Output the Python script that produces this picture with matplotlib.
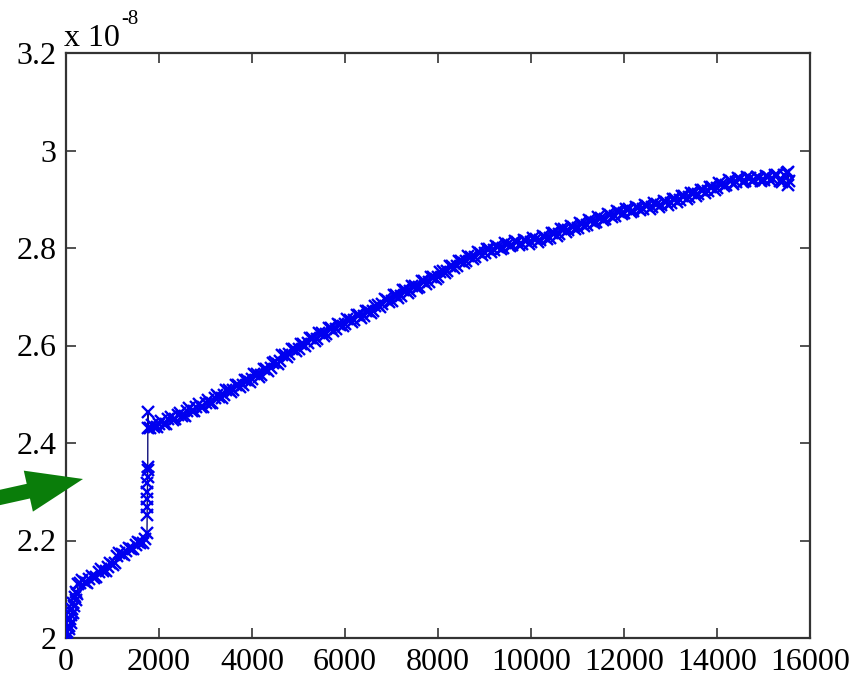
import numpy as np
import matplotlib
matplotlib.use("Agg")
import matplotlib.pyplot as plt
from matplotlib.patches import FancyArrow

# ---- data (y in units of 1e-8) ----
x_start = [10, 25, 40, 55, 70, 85, 100, 115, 130, 145, 160, 175, 190, 205, 220, 240, 260]
y_start = [2.000, 2.012, 2.005, 2.025, 2.018, 2.038, 2.030, 2.048, 2.060, 2.052,
           2.072, 2.065, 2.085, 2.078, 2.095, 2.090, 2.110]

x_low = [300, 400, 500, 600, 700, 800, 900, 1000, 1100, 1200, 1300, 1400, 1500, 1600, 1700]
y_low = [2.112, 2.114, 2.121, 2.124, 2.135, 2.138, 2.146, 2.150, 2.168, 2.172,
         2.178, 2.183, 2.190, 2.195, 2.203]
x_low_b = [350, 450, 550, 650, 750, 850, 950, 1050, 1150, 1250, 1350, 1450, 1550, 1650]
y_low_b = [2.118, 2.113, 2.127, 2.125, 2.141, 2.137, 2.153, 2.154, 2.175, 2.170,
           2.185, 2.182, 2.197, 2.195]

x_jump = [1742, 1744, 1746, 1748, 1750, 1752, 1754, 1756, 1758, 1760, 1770]
y_jump = [2.215, 2.252, 2.268, 2.285, 2.300, 2.318, 2.330, 2.345, 2.350, 2.464, 2.430]

x_main = list(range(1800, 15600, 100))
y_main = [
    2.431, 2.433, 2.440, 2.439, 2.449, 2.448, 2.458, 2.456, 2.466, 2.465,
    2.474, 2.473, 2.483, 2.482, 2.493, 2.494, 2.499, 2.509, 2.508, 2.519,
    2.520, 2.530, 2.531, 2.541, 2.540, 2.551, 2.553, 2.566, 2.568, 2.581,
    2.583, 2.593, 2.592, 2.604, 2.605, 2.615, 2.614, 2.625, 2.624, 2.635,
    2.634, 2.643, 2.644, 2.653, 2.652, 2.662, 2.660, 2.671, 2.670, 2.683,
    2.686, 2.694, 2.692, 2.703, 2.702, 2.713, 2.712, 2.723, 2.721, 2.732,
    2.731, 2.740, 2.740, 2.752, 2.753, 2.764, 2.764, 2.774, 2.773, 2.782,
    2.781, 2.790, 2.789, 2.797, 2.795, 2.803, 2.801, 2.809, 2.807, 2.813,
    2.809, 2.815, 2.812, 2.819, 2.816, 2.823, 2.821, 2.830, 2.829, 2.838,
    2.836, 2.844, 2.842, 2.850, 2.848, 2.856, 2.854, 2.862, 2.860, 2.868,
    2.866, 2.874, 2.872, 2.879, 2.876, 2.883, 2.880, 2.887, 2.884, 2.891,
    2.888, 2.895, 2.892, 2.900, 2.898, 2.906, 2.904, 2.912, 2.910, 2.918,
    2.916, 2.925, 2.924, 2.932, 2.930, 2.938, 2.935, 2.941, 2.937, 2.943,
    2.939, 2.944, 2.940, 2.946, 2.942, 2.949, 2.935, 2.953,
]
x_main_b = list(range(1850, 15550, 100))
y_main_b = [
    2.437, 2.432, 2.445, 2.440, 2.454, 2.449, 2.462, 2.456, 2.471, 2.465,
    2.479, 2.474, 2.488, 2.483, 2.499, 2.492, 2.509, 2.504, 2.519, 2.515,
    2.530, 2.526, 2.541, 2.536, 2.551, 2.547, 2.565, 2.562, 2.580, 2.577,
    2.593, 2.588, 2.603, 2.600, 2.615, 2.610, 2.625, 2.620, 2.635, 2.630,
    2.644, 2.639, 2.654, 2.648, 2.662, 2.656, 2.671, 2.666, 2.682, 2.680,
    2.695, 2.689, 2.703, 2.698, 2.713, 2.708, 2.723, 2.717, 2.732, 2.727,
    2.741, 2.736, 2.751, 2.748, 2.764, 2.760, 2.774, 2.769, 2.783, 2.777,
    2.791, 2.785, 2.798, 2.792, 2.804, 2.798, 2.810, 2.804, 2.815, 2.807,
    2.817, 2.809, 2.821, 2.813, 2.825, 2.818, 2.831, 2.825, 2.839, 2.833,
    2.845, 2.839, 2.851, 2.845, 2.857, 2.851, 2.863, 2.857, 2.869, 2.863,
    2.875, 2.869, 2.881, 2.873, 2.885, 2.877, 2.889, 2.881, 2.893, 2.885,
    2.897, 2.889, 2.901, 2.895, 2.907, 2.901, 2.913, 2.907, 2.919, 2.913,
    2.926, 2.920, 2.933, 2.927, 2.939, 2.932, 2.943, 2.935, 2.945, 2.937,
    2.946, 2.938, 2.948, 2.940, 2.950, 2.937, 2.949,
]
x_end = [15520, 15530, 15540]
y_end = [2.930, 2.955, 2.938]

x_ticks = [0, 2000, 4000, 6000, 8000, 10000, 12000, 14000, 16000]
y_ticks = [2.0, 2.2, 2.4, 2.6, 2.8, 3.0, 3.2]
y_tick_labels = ["2", "2.2", "2.4", "2.6", "2.8", "3", "3.2"]

# merge series in x order
pts = sorted(zip(x_start + x_low + x_low_b + x_jump + x_main + x_main_b + x_end,
                 y_start + y_low + y_low_b + y_jump + y_main + y_main_b + y_end))
x_all = [p[0] for p in pts]
y_all = [p[1] for p in pts]

# ---- figure ----
W, H = 852, 683
fig = plt.figure(figsize=(W / 100, H / 100), dpi=100)
fig.patch.set_facecolor("white")
ax = fig.add_axes([66 / W, 1 - 638 / H, (810 - 66) / W, (638 - 53) / H])

ax.plot(x_all, y_all, color="#10107a", lw=1.0, zorder=2)
ax.plot(x_all, y_all, linestyle="none", marker="x", color="#0000f0",
        markersize=8.5, markeredgewidth=1.7, zorder=3)

ax.set_xlim(0, 16000)
ax.set_ylim(2.0, 3.2)
ax.set_xticks(x_ticks)
ax.set_xticklabels([str(v) for v in x_ticks])
ax.set_yticks(y_ticks)
ax.set_yticklabels(y_tick_labels)

serif = ["Liberation Serif", "DejaVu Serif"]
for lab in ax.get_xticklabels() + ax.get_yticklabels():
    lab.set_family(serif)
    lab.set_fontsize(23)
    lab.set_color("black")

ax.tick_params(direction="in", length=7, width=1.2, top=True, right=True,
               color="#333333", pad=7)
for s in ax.spines.values():
    s.set_linewidth(1.6)
    s.set_color("#333333")

# exponent label
fig.text(64 / W, 1 - 46 / H, "x 10", family=serif, fontsize=23,
         ha="left", va="baseline")
fig.text(121 / W, 1 - 24 / H, "-8", family=serif, fontsize=15,
         ha="left", va="baseline")

# green arrow overlay in pixel coordinates
ov = fig.add_axes([0, 0, 1, 1], zorder=10)
ov.set_xlim(0, W)
ov.set_ylim(H, 0)
ov.axis("off")
ov.patch.set_alpha(0)
arrow = FancyArrow(-25, 503, 108, -24, width=15, head_width=42, head_length=56,
                   length_includes_head=True, color="#0a7d0a", lw=0)
ov.add_patch(arrow)

fig.savefig("out.png", dpi=100)
